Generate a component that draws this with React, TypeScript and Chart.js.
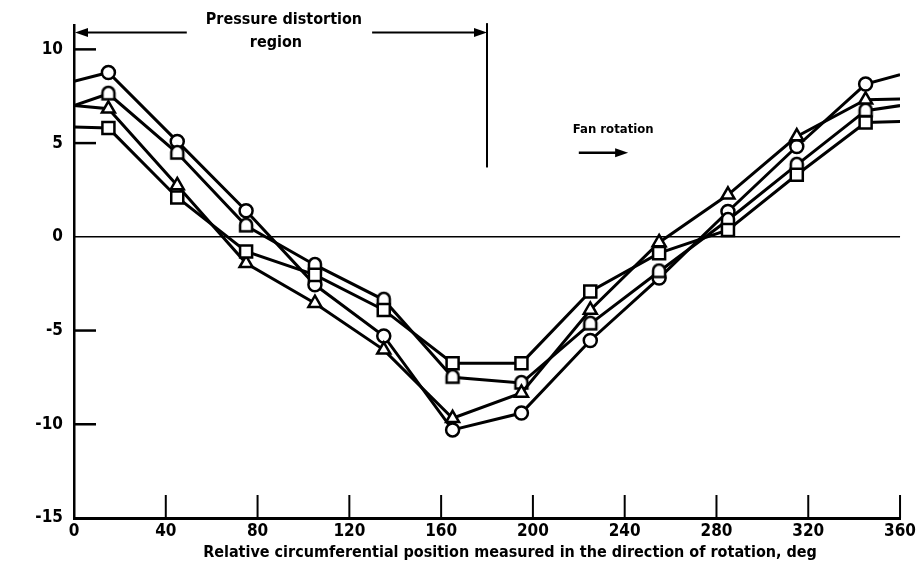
import React, { useEffect, useRef } from "react";
import { Chart, registerables } from "chart.js";

Chart.register(...registerables);

// ---- data ----
const positions = [0, 15, 45, 75, 105, 135, 165, 195, 225, 255, 285, 315, 345, 360];
const circleSeries = [8.3, 8.77, 5.09, 1.39, -2.56, -5.29, -10.3, -9.4, -5.53, -2.2, 1.35, 4.82, 8.15, 8.65];
const tombSeries = [7.0, 7.63, 4.47, 0.59, -1.5, -3.36, -7.49, -7.8, -4.64, -1.85, 0.9, 3.84, 6.73, 7.0];
const squareSeries = [5.86, 5.8, 2.1, -0.78, -2.03, -3.9, -6.74, -6.74, -2.92, -0.87, 0.37, 3.31, 6.1, 6.15];
const triangleSeries = [7.0, 6.83, 2.74, -1.41, -3.54, -6.03, -9.68, -8.33, -3.9, -0.3, 2.24, 5.35, 7.31, 7.35];

const xTicks = [0, 40, 80, 120, 160, 200, 240, 280, 320, 360];
const yTicks = [-15, -10, -5, 0, 5, 10];

const xTitle = "Relative circumferential position measured in the direction of rotation, deg";
const regionLines = ["Pressure distortion", "region"];
const fanLabel = "Fan rotation";

const FONT = "'Liberation Sans Narrow', 'DejaVu Sans Condensed', 'Roboto Condensed', 'Liberation Sans', sans-serif";

function makeTomb(): HTMLCanvasElement {
  const c = document.createElement("canvas");
  c.width = 18;
  c.height = 18;
  const g = c.getContext("2d")!;
  g.lineWidth = 2.5;
  g.strokeStyle = "#000";
  g.fillStyle = "#fff";
  g.beginPath();
  g.moveTo(3, 8);
  g.arc(9, 8, 6, Math.PI, 0, false);
  g.lineTo(15, 14.5);
  g.lineTo(3, 14.5);
  g.closePath();
  g.fill();
  g.stroke();
  return c;
}

function pts(vals: number[]) {
  return positions.map((p, i) => ({ x: p, y: vals[i] }));
}

const overlay = {
  id: "overlay",
  afterDraw(chart: any) {
    const { ctx, chartArea: a, scales } = chart;
    const x = scales.x;
    const y = scales.y;
    const line = (x1: number, y1: number, x2: number, y2: number) => {
      ctx.beginPath();
      ctx.moveTo(x1, y1);
      ctx.lineTo(x2, y2);
      ctx.stroke();
    };
    const arrowHead = (tipX: number, tipY: number, dir: number) => {
      ctx.beginPath();
      ctx.moveTo(tipX, tipY);
      ctx.lineTo(tipX - dir * 13, tipY - 4.5);
      ctx.lineTo(tipX - dir * 13, tipY + 4.5);
      ctx.closePath();
      ctx.fill();
    };
    ctx.save();
    ctx.strokeStyle = "#000";
    ctx.fillStyle = "#000";
    ctx.lineCap = "butt";

    // zero line
    ctx.lineWidth = 1.6;
    const y0 = y.getPixelForValue(0);
    line(a.left, y0, a.right, y0);

    // inward y ticks
    ctx.lineWidth = 2.5;
    yTicks.forEach((v) => {
      if (v === 0 || v === -15) return;
      const py = y.getPixelForValue(v);
      line(a.left, py, a.left + 22, py);
    });
    // inward x ticks
    ctx.lineWidth = 2;
    xTicks.forEach((v) => {
      if (v === 0) return;
      const px = x.getPixelForValue(v);
      line(px, a.bottom, px, a.bottom - 23);
    });

    // pressure distortion region annotation
    ctx.font = `bold 16px ${FONT}`;
    ctx.textAlign = "center";
    ctx.textBaseline = "middle";
    const cx = x.getPixelForValue(91.5);
    const t1y = y.getPixelForValue(11.55);
    ctx.fillText(regionLines[0], cx, t1y);
    ctx.fillText(regionLines[1], x.getPixelForValue(88), y.getPixelForValue(10.36));
    const tw = ctx.measureText(regionLines[0]).width;
    const ay = y.getPixelForValue(10.9);
    const xl = x.getPixelForValue(0) + 1;
    const xr = x.getPixelForValue(180);
    ctx.lineWidth = 2;
    line(xl + 8, ay, cx - tw / 2 - 19, ay);
    line(cx + tw / 2 + 10, ay, xr - 8, ay);
    arrowHead(xl, ay, -1);
    arrowHead(xr, ay, 1);
    ctx.lineWidth = 2;
    line(xr, y.getPixelForValue(11.4), xr, y.getPixelForValue(3.7));

    // fan rotation
    ctx.font = `bold 13px ${FONT}`;
    ctx.fillText(fanLabel, x.getPixelForValue(235), y.getPixelForValue(5.71));
    const fy = y.getPixelForValue(4.48);
    const fx1 = x.getPixelForValue(220);
    const fx2 = x.getPixelForValue(241.5);
    ctx.lineWidth = 2.5;
    line(fx1, fy, fx2 - 8, fy);
    arrowHead(fx2, fy, 1);

    // x-axis title
    ctx.font = `bold 16px ${FONT}`;
    ctx.fillText(xTitle, (a.left + a.right) / 2 + 23, 553);

    ctx.restore();
  },
};

export default function App() {
  const ref = useRef<HTMLCanvasElement | null>(null);
  useEffect(() => {
    if (!ref.current) return;
    const tomb = makeTomb();
    const last = positions.length - 1;
    const rad = (r: number) => (c: any) => (c.dataIndex === 0 || c.dataIndex === last ? 0 : r);
    const base = {
      borderColor: "#000",
      backgroundColor: "#fff",
      borderWidth: 3,
      pointBorderWidth: 2.5,
      pointBorderColor: "#000",
      pointBackgroundColor: "#fff",
      tension: 0,
      fill: false,
      showLine: true,
    };
    const chart = new Chart(ref.current, {
      type: "scatter",
      data: {
        datasets: [
          { ...base, label: "square", data: pts(squareSeries), pointStyle: "rect", pointRadius: rad(8.5) },
          { ...base, label: "triangle", data: pts(triangleSeries), pointStyle: "triangle", pointRadius: rad(7.5) },
          { ...base, label: "tomb", data: pts(tombSeries), pointStyle: tomb as any, pointRadius: rad(6) },
          { ...base, label: "circle", data: pts(circleSeries), pointStyle: "circle", pointRadius: rad(6.5) },
        ] as any,
      },
      options: {
        responsive: false,
        animation: false,
        events: [],
        layout: { padding: { left: 0, right: 15, top: 25, bottom: 0 } },
        plugins: {
          legend: { display: false },
          tooltip: { enabled: false },
          title: { display: false },
        },
        scales: {
          x: {
            type: "linear",
            min: 0,
            max: 360,
            afterBuildTicks: (s: any) => {
              s.ticks = xTicks.map((v) => ({ value: v }));
            },
            afterFit: (s: any) => {
              s.height = 51;
            },
            grid: { display: true, drawOnChartArea: false, drawTicks: false },
            border: { display: true, color: "#000", width: 3 },
            ticks: {
              padding: 3,
              color: "#000",
              maxRotation: 0,
              autoSkip: false,
              font: { family: FONT, size: 17, weight: "bold" },
            },
          },
          y: {
            type: "linear",
            min: -15,
            max: 11.3,
            afterBuildTicks: (s: any) => {
              s.ticks = yTicks.map((v) => ({ value: v }));
            },
            afterFit: (s: any) => {
              s.width = 74;
            },
            grid: { display: true, drawOnChartArea: false, drawTicks: false },
            border: { display: true, color: "#000", width: 2.5 },
            ticks: {
              padding: 11,
              color: "#000",
              autoSkip: false,
              font: { family: FONT, size: 17, weight: "bold" },
            },
          },
        },
      } as any,
      plugins: [overlay],
    });
    return () => chart.destroy();
  }, []);
  return (
    <div style={{ position: "absolute", left: 0, top: 0, width: 919, height: 569, background: "#fff" }}>
      <canvas ref={ref} width={919} height={569} style={{ display: "block" }} />
    </div>
  );
}
